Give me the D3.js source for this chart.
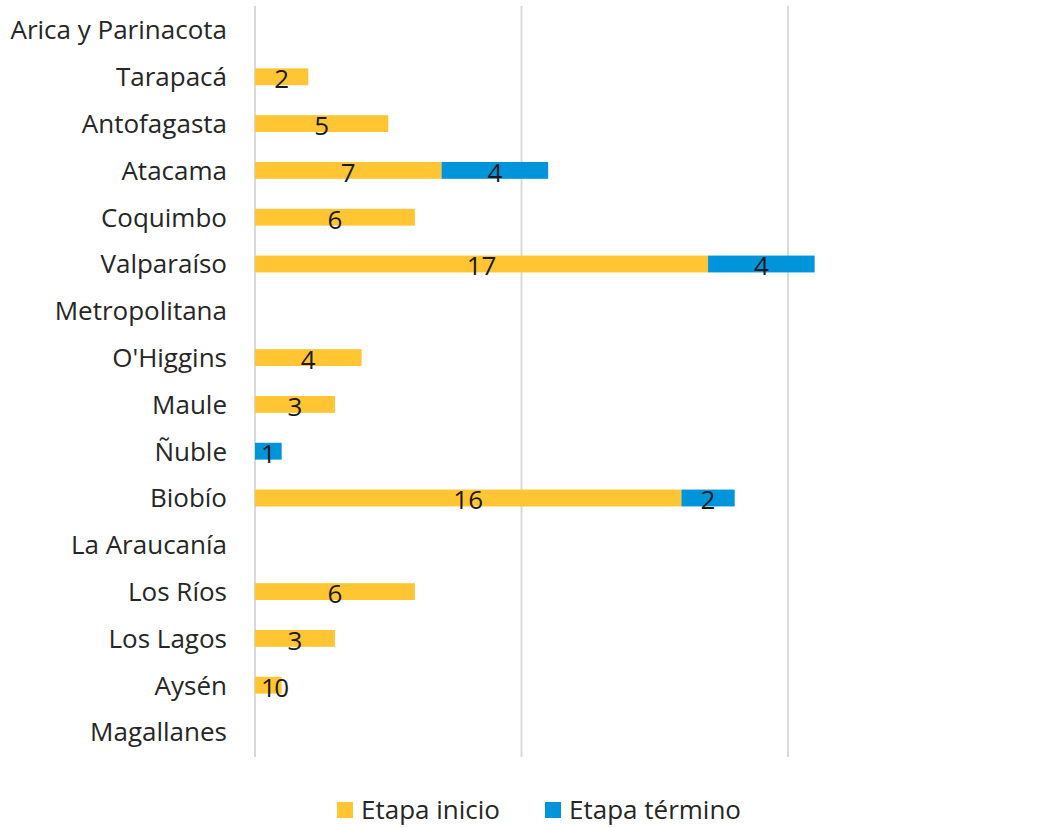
<!DOCTYPE html>
<html>
<head>
<meta charset="utf-8">
<script src="https://cdn.jsdelivr.net/npm/d3@7"></script>
<style>
  body { margin: 0; background: #fff; }
  text { font-family: "Open Sans", Roboto, sans-serif; fill: #262626; }
</style>
</head>
<body>
<svg id="chart" width="1049" height="828"></svg>
<script>
const regions = ['Arica y Parinacota', 'Tarapacá', 'Antofagasta', 'Atacama', 'Coquimbo',
  'Valparaíso', 'Metropolitana', "O'Higgins", 'Maule', 'Ñuble', 'Biobío',
  'La Araucanía', 'Los Ríos', 'Los Lagos', 'Aysén', 'Magallanes'];
// null = no value in the source sheet
const etapaInicio = [null, 2, 5, 7, 6, 17, null, 4, 3, null, 16, null, 6, 3, 1, null];
const etapaTermino = [null, null, null, 4, null, 4, null, null, null, 1, 2, null, null, null, 0, null];
const gridTicks = [0, 10, 20];

const series = [
  {name: 'Etapa inicio', values: etapaInicio, color: '#FFC533'},
  {name: 'Etapa término', values: etapaTermino, color: '#0095DA'}
];

const svg = d3.select('#chart');

const x = d3.scaleLinear().domain([0, 30]).range([255, 1054.5]);
const y = d3.scaleBand().domain(regions).range([6.6, 755.4]).paddingInner(0.64).paddingOuter(0.32);

// gridlines
svg.append('g')
  .selectAll('line')
  .data(gridTicks)
  .join('line')
  .attr('x1', (d) => x(d)).attr('x2', (d) => x(d))
  .attr('y1', 6).attr('y2', 757)
  .attr('stroke', '#d9d9d9')
  .attr('stroke-width', 2);

// stack the two series
const rows = regions.map((r, i) => {
  let start = 0;
  return series.map((s) => {
    const v = s.values[i];
    const seg = {region: r, value: v, x0: start, x1: start + (v || 0), color: s.color};
    start = seg.x1;
    return seg;
  });
}).flat().filter((d) => d.value !== null);

svg.append('g')
  .selectAll('rect')
  .data(rows.filter((d) => d.value > 0))
  .join('rect')
  .attr('x', (d) => x(d.x0))
  .attr('width', (d) => x(d.x1) - x(d.x0))
  .attr('y', (d) => y(d.region))
  .attr('height', y.bandwidth())
  .attr('fill', (d) => d.color);

svg.append('g')
  .selectAll('text')
  .data(rows)
  .join('text')
  .attr('x', (d) => x((d.x0 + d.x1) / 2))
  .attr('y', (d) => y(d.region) + y.bandwidth() / 2 + 2)
  .attr('dy', '0.36em')
  .attr('text-anchor', 'middle')
  .style('font-size', '26px')
  .style('fill', '#1a1a1a')
  .text((d) => d.value);

// category labels
svg.append('g')
  .selectAll('text')
  .data(regions)
  .join('text')
  .attr('x', 227)
  .attr('y', (d) => y(d) + y.bandwidth() / 2)
  .attr('dy', '0.36em')
  .attr('text-anchor', 'end')
  .style('font-size', '26px')
  .text((d) => d);

// legend
const legendX = [337, 545];
const legend = svg.append('g')
  .selectAll('g')
  .data(series)
  .join('g')
  .attr('transform', (d, i) => `translate(${legendX[i]}, 802)`);

legend.append('rect')
  .attr('width', 16).attr('height', 16)
  .attr('fill', (d) => d.color);

legend.append('text')
  .attr('x', 24).attr('y', 8)
  .attr('dy', '0.36em')
  .style('font-size', '26px')
  .text((d) => d.name);
</script>
</body>
</html>
